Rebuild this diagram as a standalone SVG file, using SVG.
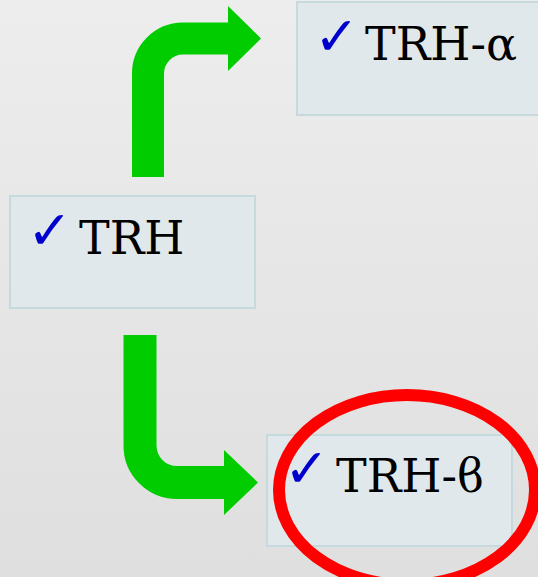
<svg xmlns="http://www.w3.org/2000/svg" width="538" height="577" viewBox="0 0 538 577">
  <defs>
    <linearGradient id="bg" x1="0" y1="0" x2="0" y2="1">
      <stop offset="0" stop-color="#ededed"/>
      <stop offset="1" stop-color="#dfdfdf"/>
    </linearGradient>
    <style>
      .box { fill: #e1e8eb; stroke: #c6dade; stroke-width: 2; }
      .label { font-family: "DejaVu Serif", "Liberation Serif", serif; font-size: 46px; fill: #000000; }
      .tick { font-family: "DejaVu Sans", sans-serif; font-size: 54px; font-weight: bold; fill: #0000cc; }
      .shaft { fill: none; stroke: #00cc00; stroke-linejoin: round; }
      .head { fill: #00cc00; }
    </style>
  </defs>

  <!-- background -->
  <rect x="0" y="0" width="538" height="577" fill="url(#bg)"/>

  <!-- nodes -->
  <g id="node-trh-alpha">
    <rect class="box" x="297" y="2" width="250" height="113"/>
    <text class="tick" x="314" y="55">✓</text>
    <text class="label" x="365" y="60">TRH-α</text>
  </g>

  <g id="node-trh">
    <rect class="box" x="10" y="196" width="245" height="112"/>
    <text class="tick" x="27" y="249">✓</text>
    <text class="label" x="79" y="254">TRH</text>
  </g>

  <g id="node-trh-beta">
    <rect class="box" x="267" y="435" width="245" height="111"/>
    <text class="tick" x="284" y="487">✓</text>
    <text class="label" x="336" y="492">TRH-ϐ</text>
  </g>

  <!-- connectors -->
  <g id="connectors">
    <g id="edge-trh-to-alpha">
      <path class="shaft" stroke-width="32" d="M148,177 V74 A35,35 0 0 1 183,38.5 H229"/>
      <polygon class="head" points="228,6 261,38.5 228,71"/>
    </g>
    <g id="edge-trh-to-beta">
      <path class="shaft" stroke-width="33" d="M140,335 V445 A37,37 0 0 0 177,482.5 H225"/>
      <polygon class="head" points="224,450 258,482.5 224,515"/>
    </g>
  </g>

  <!-- highlight ring around TRH-ϐ -->
  <ellipse id="highlight" cx="407" cy="490" rx="128" ry="95" fill="none" stroke="#ff0000" stroke-width="12"/>
</svg>
